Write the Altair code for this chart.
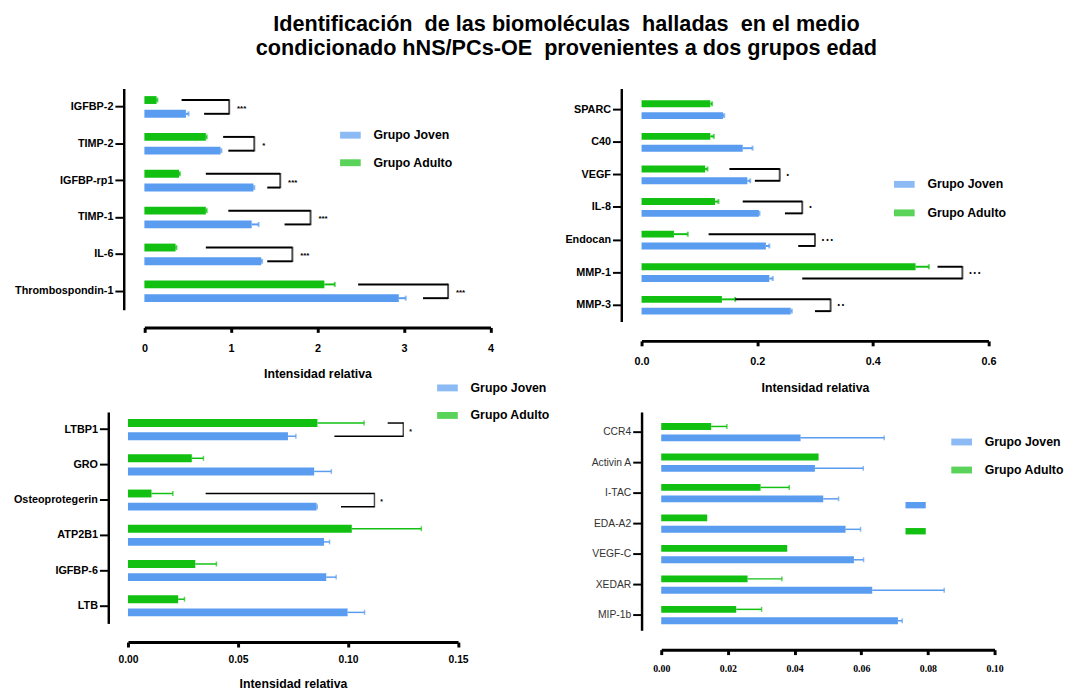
import altair as alt
import pandas as pd

BLUE = "#5a9cf0"
GREEN = "#12c012"
FONT = "Liberation Sans"
GROUPS = ["Grupo Joven", "Grupo Adulto"]
OFFSET_ORDER = ["Grupo Adulto", "Grupo Joven"]

# ---------------- Panel 1 ----------------
p1_cats = ["IGFBP-2", "TIMP-2", "IGFBP-rp1", "TIMP-1", "IL-6", "Thrombospondin-1"]
p1_joven = [0.48, 0.88, 1.26, 1.24, 1.35, 2.94]
p1_joven_err = [0.51, 0.89, 1.27, 1.32, 1.36, 3.02]
p1_adulto = [0.14, 0.71, 0.40, 0.71, 0.36, 2.08]
p1_adulto_err = [0.15, 0.72, 0.41, 0.72, 0.37, 2.20]
p1_sig_cats = ["IGFBP-2", "TIMP-2", "IGFBP-rp1", "TIMP-1", "IL-6", "Thrombospondin-1"]
p1_sig_top = [0.43, 0.91, 0.71, 0.97, 0.71, 2.47]
p1_sig_bot = [0.69, 0.97, 1.42, 1.62, 1.42, 3.22]
p1_sig_x = [0.98, 1.27, 1.57, 1.92, 1.71, 3.51]
p1_sig_lbl = ["***", "*", "***", "***", "***", "***"]
p1_ticks = [0, 1, 2, 3, 4]

# ---------------- Panel 2 ----------------
p2_cats = ["SPARC", "C40", "VEGF", "IL-8", "Endocan", "MMP-1", "MMP-3"]
p2_joven = [0.141, 0.175, 0.183, 0.203, 0.215, 0.221, 0.258]
p2_joven_err = [0.143, 0.192, 0.188, 0.204, 0.221, 0.227, 0.260]
p2_adulto = [0.119, 0.119, 0.110, 0.127, 0.056, 0.474, 0.139]
p2_adulto_err = [0.122, 0.125, 0.114, 0.133, 0.080, 0.497, 0.162]
p2_sig_cats = ["VEGF", "IL-8", "Endocan", "MMP-1", "MMP-3"]
p2_sig_top = [0.152, 0.175, 0.116, 0.512, 0.162]
p2_sig_bot = [0.196, 0.248, 0.271, 0.278, 0.300]
p2_sig_x = [0.239, 0.278, 0.300, 0.555, 0.327]
p2_sig_lbl = ["•", "•", "• • •", "\u00a0\u00a0• • •", "• •"]
p2_ticks = [0.0, 0.2, 0.4, 0.6]

# ---------------- Panel 3 ----------------
p3_cats = ["LTBP1", "GRO", "Osteoprotegerin", "ATP2B1", "IGFBP-6", "LTB"]
p3_joven = [0.0727, 0.0846, 0.0857, 0.0891, 0.0901, 0.0998]
p3_joven_err = [0.0763, 0.0924, 0.0860, 0.0916, 0.0946, 0.1075]
p3_adulto = [0.0861, 0.0290, 0.0107, 0.1017, 0.0306, 0.0228]
p3_adulto_err = [0.1073, 0.0343, 0.0204, 0.1333, 0.0402, 0.0257]
p3_sig_cats = ["LTBP1", "Osteoprotegerin"]
p3_sig_top = [0.118, 0.0353]
p3_sig_bot = [0.0938, 0.0968]
p3_sig_x = [0.1251, 0.112]
p3_sig_lbl = ["*", "*"]
p3_ticks = [0.0, 0.05, 0.10, 0.15]

# ---------------- Panel 4 ----------------
p4_cats = ["CCR4", "Activin A", "I-TAC", "EDA-A2", "VEGF-C", "XEDAR", "MIP-1b"]
p4_joven = [0.0418, 0.0461, 0.0486, 0.0553, 0.0578, 0.0633, 0.0710]
p4_joven_err = [0.0669, 0.0606, 0.0532, 0.0598, 0.0607, 0.0849, 0.0723]
p4_adulto = [0.0150, 0.0472, 0.0298, 0.0138, 0.0378, 0.0259, 0.0225]
p4_adulto_err = [0.0197, 0.0472, 0.0384, 0.0138, 0.0378, 0.0362, 0.0301]
p4_ticks = [0.0, 0.02, 0.04, 0.06, 0.08, 0.10]

NB = "\u00a0"
TITLE = ["Identificación" + NB + " de las biomoléculas" + NB + " halladas" + NB + " en el medio",
         "condicionado hNS/PCs-OE" + NB + " provenientes a dos grupos edad"]

LEG_PATH = "M-1,-0.333H1V0.333H-1Z"


def panel(cats, joven, joven_err, adulto, adulto_err,
          sig_cats, sig_top, sig_bot, sig_x, sig_lbl, c):
    rows = []
    for cat, v, e in zip(cats, joven, joven_err):
        rows.append({"cat": cat, "grupo": "Grupo Joven", "v": v, "e": e})
    for cat, v, e in zip(cats, adulto, adulto_err):
        rows.append({"cat": cat, "grupo": "Grupo Adulto", "v": v, "e": e})
    df = pd.DataFrame(rows)
    df_err = df[df["e"] > df["v"]]

    xs = alt.Scale(domain=c["xdom"], range=c["xrange"], nice=False, zero=True)
    ys = alt.Scale(domain=cats, paddingInner=0, paddingOuter=c["ypo"], align=1)
    osc = alt.Scale(domain=OFFSET_ORDER, paddingInner=c["pi"], paddingOuter=c["po"])
    cs = alt.Scale(domain=GROUPS, range=[BLUE, GREEN])

    xaxis = alt.Axis(values=c["ticks"], format=c["fmt"], title=c["xtitle"],
                     offset=c["xoff"], grid=False,
                     domainColor="black", domainWidth=3,
                     tickColor="black", tickWidth=3, tickSize=5,
                     labelFont=c["tfont"], labelFontSize=c["tsize"],
                     labelFontWeight="bold", labelColor="black",
                     labelPadding=c["lpad"], labelFlush=False,
                     titleFont=FONT, titleFontSize=12.5, titleFontWeight="bold",
                     titleColor="black", titlePadding=c["titlepad"])
    yaxis = alt.Axis(title=None, offset=c["yoff"], grid=False,
                     domainColor="black", domainWidth=2.5,
                     tickColor="black", tickWidth=2, tickSize=9,
                     labelFont=FONT, labelFontSize=c["ysize"],
                     labelFontWeight=c["yweight"], labelColor=c["ycolor"],
                     labelPadding=2)
    legend = alt.Legend(orient="none", legendX=c["legx"], legendY=c["legy"],
                        title=None, symbolType=LEG_PATH, symbolSize=441,
                        symbolStrokeWidth=0, labelFont=FONT, labelFontSize=12.5,
                        labelFontWeight="bold", labelColor="black",
                        labelOffset=13, rowPadding=c["legrow"], padding=0)

    Y = alt.Y("cat:N", sort=cats, scale=ys, axis=yaxis)
    YO = alt.YOffset("grupo:N", sort=OFFSET_ORDER, scale=osc)
    COL = alt.Color("grupo:N", scale=cs, legend=legend)

    bars = alt.Chart(df).mark_bar().encode(
        x=alt.X("v:Q", scale=xs, axis=xaxis), y=Y, yOffset=YO, color=COL)
    err = alt.Chart(df_err).mark_rule(strokeWidth=c["ew"]).encode(
        x=alt.X("v:Q", scale=xs, axis=xaxis), x2="e:Q", y=Y, yOffset=YO, color=COL)
    cap = alt.Chart(df_err).mark_tick(thickness=c["ew"], size=5).encode(
        x=alt.X("e:Q", scale=xs, axis=xaxis), y=Y, yOffset=YO, color=COL)
    layers = [bars, err, cap]

    if sig_cats:
        br = []
        for cat, t, b, x in zip(sig_cats, sig_top, sig_bot, sig_x):
            br.append({"cat": cat, "grupo": "Grupo Adulto", "x0": t, "x1": x})
            br.append({"cat": cat, "grupo": "Grupo Joven", "x0": b, "x1": x})
        dbr = pd.DataFrame(br)
        dsg = pd.DataFrame({"cat": sig_cats, "x": sig_x, "lbl": sig_lbl})
        hl = alt.Chart(dbr).mark_rule(color="black", strokeWidth=c["bw"]).encode(
            x=alt.X("x0:Q", scale=xs, axis=xaxis), x2="x1:Q", y=Y, yOffset=YO)
        vl = alt.Chart(dsg).mark_tick(color="black", thickness=c["bw"],
                                      size=c["vsize"], orient="vertical").encode(
            x=alt.X("x:Q", scale=xs, axis=xaxis), y=Y)
        st = alt.Chart(dsg).mark_text(align="left", baseline="middle",
                                      dx=c["sdx"], dy=c["sdy"], font=FONT,
                                      fontSize=c["ssize"], fontWeight="bold",
                                      color="black").encode(
            x=alt.X("x:Q", scale=xs, axis=xaxis), y=Y, text="lbl:N")
        layers += [hl, vl, st]

    return alt.layer(*layers).properties(width=c["w"], height=c["h"])


p1 = panel(p1_cats, p1_joven, p1_joven_err, p1_adulto, p1_adulto_err,
           p1_sig_cats, p1_sig_top, p1_sig_bot, p1_sig_x, p1_sig_lbl,
           dict(xdom=[0, 4], xrange=[16.7, 368.7], ypo=0, pi=0.4286, po=0.5536,
                ticks=p1_ticks, fmt="d", xtitle="Intensidad relativa", xoff=18,
                tfont=FONT, tsize=11, lpad=10, titlepad=15,
                yoff=4.3, ysize=11, yweight="bold", ycolor="black",
                legx=215.7, legy=37, legrow=11, ew=2, bw=2, vsize=15.5, sdx=8, sdy=2,
                ssize=8, w=368.7, h=225))

p2 = panel(p2_cats, p2_joven, p2_joven_err, p2_adulto, p2_adulto_err,
           p2_sig_cats, p2_sig_top, p2_sig_bot, p2_sig_x, p2_sig_lbl,
           dict(xdom=[0, 0.6], xrange=[0, 352.7], ypo=0.0754, pi=0.4167, po=0.589,
                ticks=p2_ticks, fmt=".1f", xtitle="Intensidad relativa", xoff=19.7,
                tfont=FONT, tsize=11, lpad=10, titlepad=15,
                yoff=20.6, ysize=11, yweight="bold", ycolor="black",
                legx=256.7, legy=87, legrow=12, ew=2, bw=2, vsize=13.5, sdx=7, sdy=0,
                ssize=7, w=352.7, h=237))

p3 = panel(p3_cats, p3_joven, p3_joven_err, p3_adulto, p3_adulto_err,
           p3_sig_cats, p3_sig_top, p3_sig_bot, p3_sig_x, p3_sig_lbl,
           dict(xdom=[0, 0.15], xrange=[0, 335.7], ypo=0, pi=0.403, po=0.5385,
                ticks=p3_ticks, fmt=".2f", xtitle="Intensidad relativa", xoff=19,
                tfont=FONT, tsize=10.5, lpad=8, titlepad=13,
                yoff=20, ysize=11, yweight="bold", ycolor="black",
                legx=314.4, legy=-35, legrow=11, ew=1.5, bw=1.5, vsize=14.9, sdx=6, sdy=2,
                ssize=7, w=335.7, h=215))

p4 = panel(p4_cats, p4_joven, p4_joven_err, p4_adulto, p4_adulto_err,
           [], [], [], [], [],
           dict(xdom=[0, 0.10], xrange=[20, 359], ypo=0.0806, pi=0.3966, po=0.5345,
                ticks=p4_ticks, fmt=".2f", xtitle=None, xoff=19.7,
                tfont="Liberation Serif", tsize=10, lpad=9, titlepad=10,
                yoff=0, ysize=10.5, yweight="normal",
                ycolor="#333333", legx=315, legy=20, legrow=11.5, ew=1.5, bw=1.5,
                vsize=13, sdx=6, sdy=0, ssize=7, w=359, h=222))

# stray legend swatches in the fourth panel
stray_b = alt.Chart(pd.DataFrame({"g": ["Grupo Joven"]})).mark_rect(color=BLUE).encode(
    x=alt.value(268.4), x2=alt.value(289), y=alt.value(91.5), y2=alt.value(98))
stray_g = alt.Chart(pd.DataFrame({"g": ["Grupo Adulto"]})).mark_rect(color=GREEN).encode(
    x=alt.value(268.4), x2=alt.value(289), y=alt.value(118), y2=alt.value(124.5))
p4 = alt.layer(p4, stray_b, stray_g)

chart = alt.concat(
    p1, p2, p3, p4, columns=2,
    spacing={"row": 92, "column": 153.3},
    bounds="flush",
    title=alt.TitleParams(TITLE, anchor="middle", font=FONT, fontSize=22,
                          fontWeight="bold", color="black", lineHeight=24,
                          offset=29, dx=28),
).resolve_scale(
    color="independent", x="independent", y="independent", yOffset="independent"
).properties(
    padding={"left": 5, "top": 0, "right": 5, "bottom": 2},
    background="white",
).configure_view(stroke=None)

chart.save("out.html", embed_options={"renderer": "svg", "actions": False})
